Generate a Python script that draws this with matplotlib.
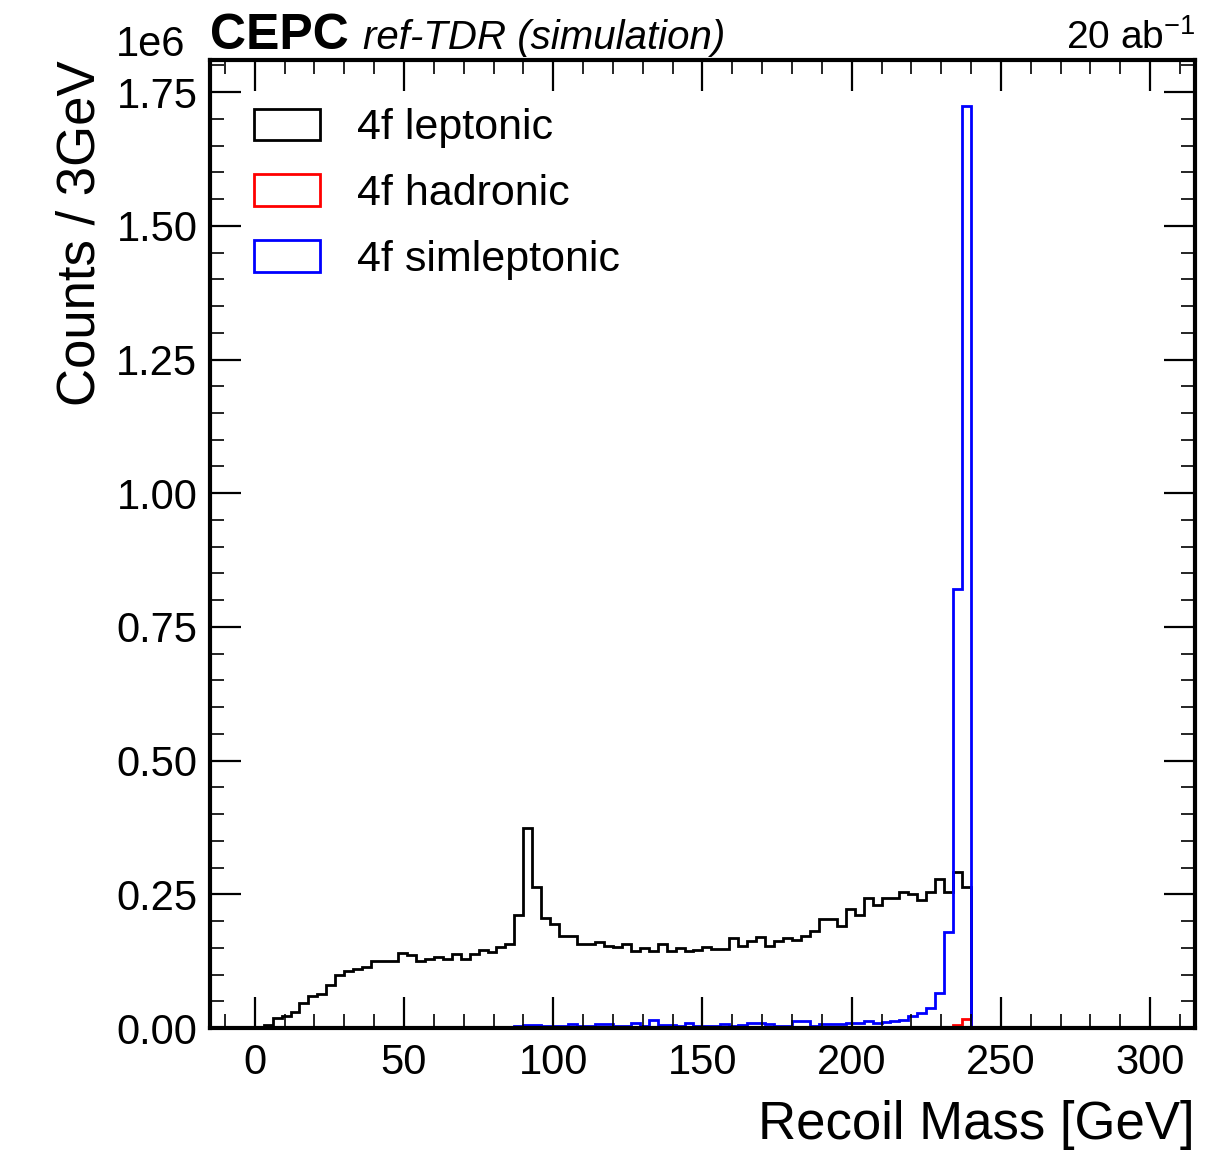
import numpy as np
import matplotlib
matplotlib.use("Agg")
import matplotlib.pyplot as plt
from matplotlib.patches import Patch
from matplotlib.ticker import MultipleLocator

plt.rcParams["font.family"] = ["Liberation Sans", "DejaVu Sans"]
plt.rcParams["mathtext.fontset"] = "custom"
plt.rcParams["mathtext.rm"] = "Liberation Sans"
plt.rcParams["mathtext.it"] = "Liberation Sans:italic"
plt.rcParams["axes.unicode_minus"] = False

# recoil mass, 3 GeV bins from 0 to 240
edges = np.arange(0, 243, 3)

# counts per bin, in units of 1e6
leptonic = [0.001, 0.0056, 0.018, 0.0225, 0.0305, 0.046, 0.060, 0.0636, 0.0805, 0.099,
            0.1067, 0.110, 0.1148, 0.1254, 0.1254, 0.1254, 0.1398, 0.1366, 0.1254, 0.1285,
            0.132, 0.1285, 0.1385, 0.1285, 0.1385, 0.146, 0.1428, 0.151, 0.157, 0.2115,
            0.374, 0.2645, 0.205, 0.194, 0.172, 0.172, 0.158, 0.158, 0.161, 0.154,
            0.151, 0.158, 0.144, 0.150, 0.144, 0.158, 0.144, 0.150, 0.144, 0.146,
            0.152, 0.147, 0.147, 0.168, 0.1535, 0.163, 0.171, 0.1535, 0.163, 0.168,
            0.165, 0.172, 0.182, 0.203, 0.203, 0.190, 0.222, 0.212, 0.244, 0.230,
            0.244, 0.244, 0.254, 0.250, 0.240, 0.255, 0.278, 0.255, 0.291, 0.2645]

hadronic = [0.0] * 77 + [0.001, 0.0056, 0.0168]

simleptonic = [0.0] * 27 + [
    0.002, 0.002, 0.003, 0.006, 0.006, 0.004, 0.003, 0.003, 0.007, 0.003,
    0.003, 0.007, 0.007, 0.003, 0.004, 0.010, 0.004, 0.015, 0.006, 0.006,
    0.003, 0.010, 0.004, 0.003, 0.004, 0.007, 0.004, 0.005, 0.010, 0.010,
    0.007, 0.004, 0.004, 0.013, 0.013, 0.004, 0.007, 0.007, 0.007, 0.009,
    0.009, 0.013, 0.010, 0.012, 0.013, 0.015, 0.022, 0.028, 0.037, 0.065,
    0.18, 0.82, 1.724]

labels = ["4f leptonic", "4f hadronic", "4f simleptonic"]
colors = ["black", "red", "blue"]

fig = plt.figure(figsize=(12.15, 11.52), dpi=100)
ax = fig.add_axes([0.1728, 0.1076, 0.8107, 0.8403])

handles = []
for vals, lab, col in zip([leptonic, hadronic, simleptonic], labels, colors):
    ax.stairs(np.array(vals) * 1e6, edges, color=col, linewidth=2)
    handles.append(Patch(facecolor="none", edgecolor=col, linewidth=2, label=lab))

ax.set_xlim(-15, 315)
ax.set_ylim(0, 1.81e6)

ax.xaxis.set_major_locator(MultipleLocator(50))
ax.xaxis.set_minor_locator(MultipleLocator(10))
ax.yaxis.set_major_locator(MultipleLocator(0.25e6))
ax.yaxis.set_minor_locator(MultipleLocator(0.05e6))
ax.tick_params(which="both", direction="in", top=True, right=True, labelsize=30)
ax.tick_params(which="major", length=22, width=1.6)
ax.tick_params(which="minor", length=10, width=1.2)
ax.tick_params(axis="x", which="major", pad=11)
ax.tick_params(axis="y", which="major", pad=9)
off = ax.yaxis.get_offset_text()
off.set_fontsize(30)
off.set_horizontalalignment("right")
off.set_x(-0.025)
for s in ax.spines.values():
    s.set_linewidth(3)

ax.set_xlabel("Recoil Mass [GeV]", fontsize=38, loc="right", labelpad=12)
ax.set_ylabel("Counts / 3GeV", fontsize=38, loc="top", labelpad=8)

ax.legend(handles=handles, loc="upper left", bbox_to_anchor=(0.005, 0.99),
          frameon=False, fontsize=31, handlelength=1.55, handleheight=0.75,
          handletextpad=0.85, labelspacing=0.6)

ax.text(0.0, 1.011, "CEPC", transform=ax.transAxes, fontsize=36, fontweight="bold",
        ha="left", va="baseline")
ax.text(0.155, 1.011, "ref-TDR (simulation)", transform=ax.transAxes, fontsize=29,
        fontstyle="italic", ha="left", va="baseline")
ax.text(1.0, 1.011, "20 ab$^{-1}$", transform=ax.transAxes, fontsize=28,
        ha="right", va="baseline")

fig.savefig("out.png", dpi=100)
